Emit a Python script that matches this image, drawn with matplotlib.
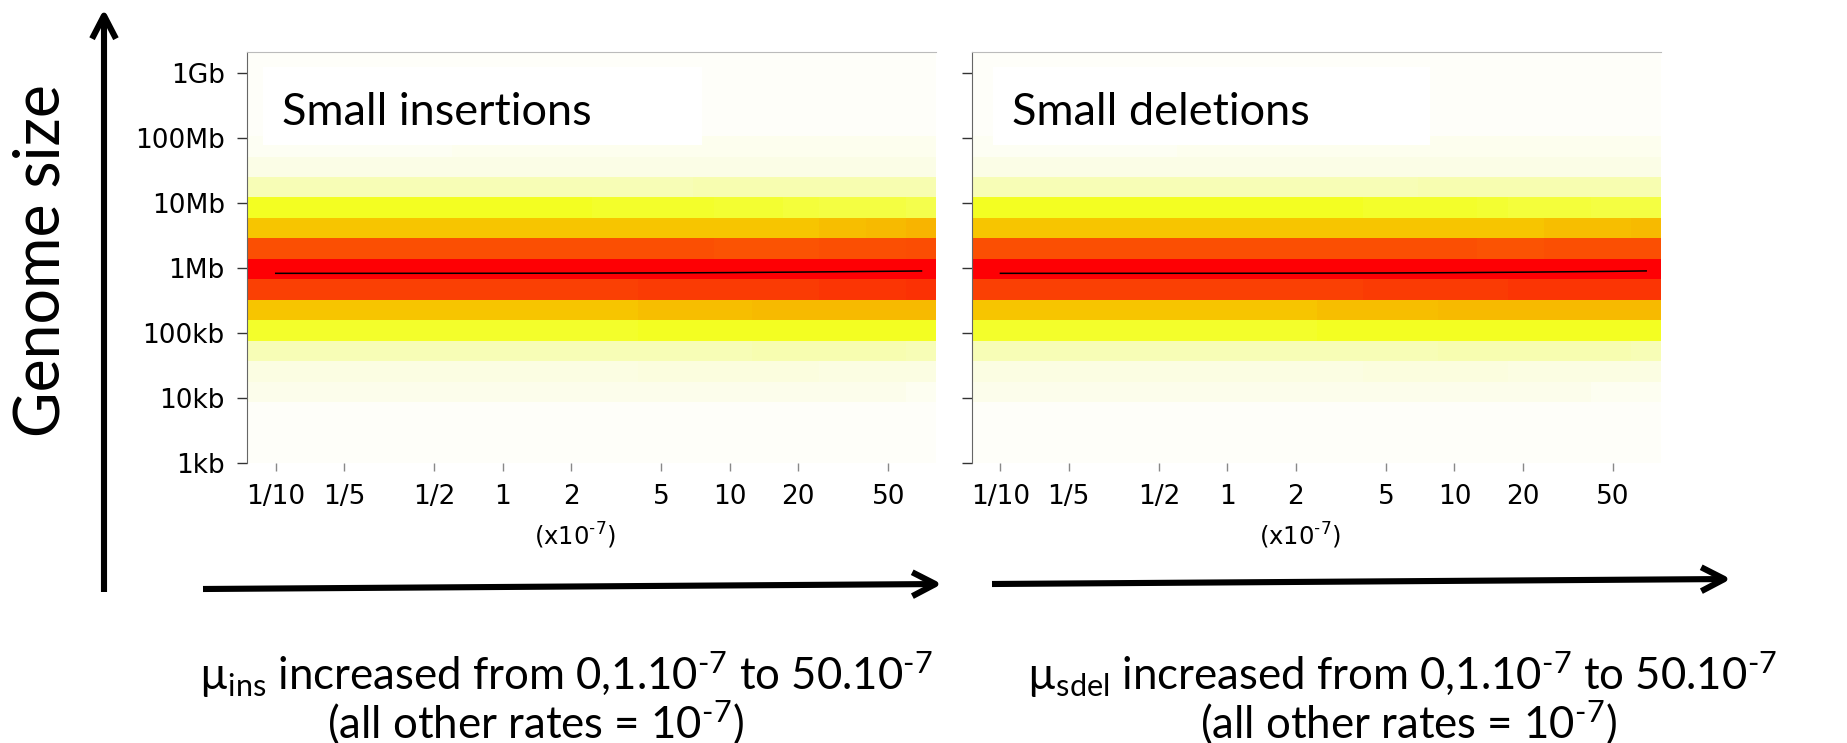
import numpy as np
import matplotlib
matplotlib.use("Agg")
import matplotlib.pyplot as plt
from matplotlib.colors import LinearSegmentedColormap
from matplotlib.patches import FancyArrowPatch, Rectangle

plt.rcParams['mathtext.fontset'] = 'custom'
plt.rcParams['mathtext.rm'] = 'Lato'
plt.rcParams['mathtext.default'] = 'regular'

# rate bins (x10^-7) and genome size bins (log10 bp)
rate_edges = [0.0747, 0.6, 1.24, 2.47, 3.94, 6.9, 8.5, 12.6, 17.2, 24.8, 39.8, 59.8, 81.1]
size_edges_log = [3.938, 4.251, 4.569, 4.877, 5.2, 5.515, 5.831, 6.143, 6.462, 6.774, 7.092, 7.4, 7.715, 8.031]

# relative frequency of final genome sizes, rows bottom -> top
freq_ins = [
    [0.05, 0.05, 0.05, 0.05, 0.05, 0.05, 0.05, 0.05, 0.05, 0.05, 0.05, 0.03],
    [0.08, 0.08, 0.08, 0.08, 0.09, 0.09, 0.09, 0.09, 0.09, 0.08, 0.08, 0.08],
    [0.20, 0.20, 0.20, 0.20, 0.20, 0.20, 0.20, 0.21, 0.21, 0.21, 0.21, 0.20],
    [0.37, 0.37, 0.37, 0.37, 0.38, 0.38, 0.38, 0.38, 0.38, 0.38, 0.38, 0.38],
    [0.58, 0.58, 0.58, 0.58, 0.59, 0.59, 0.59, 0.60, 0.60, 0.60, 0.60, 0.60],
    [0.88, 0.88, 0.88, 0.88, 0.89, 0.89, 0.89, 0.89, 0.89, 0.90, 0.90, 0.91],
    [1.00, 1.00, 1.00, 1.00, 1.00, 1.00, 1.00, 1.00, 1.00, 1.00, 1.00, 1.00],
    [0.80, 0.80, 0.80, 0.80, 0.80, 0.80, 0.79, 0.79, 0.79, 0.80, 0.80, 0.81],
    [0.58, 0.58, 0.58, 0.58, 0.58, 0.58, 0.58, 0.58, 0.58, 0.59, 0.60, 0.61],
    [0.38, 0.38, 0.38, 0.37, 0.37, 0.37, 0.36, 0.36, 0.35, 0.34, 0.34, 0.33],
    [0.20, 0.20, 0.20, 0.20, 0.20, 0.21, 0.21, 0.21, 0.21, 0.21, 0.21, 0.21],
    [0.07, 0.07, 0.07, 0.07, 0.07, 0.07, 0.07, 0.07, 0.07, 0.07, 0.07, 0.07],
    [0.02, 0.04, 0.04, 0.04, 0.04, 0.04, 0.04, 0.04, 0.04, 0.04, 0.04, 0.04],
]
freq_sdel = [
    [0.05, 0.05, 0.05, 0.05, 0.05, 0.05, 0.05, 0.05, 0.05, 0.05, 0.03, 0.03],
    [0.08, 0.08, 0.08, 0.08, 0.09, 0.09, 0.09, 0.09, 0.08, 0.08, 0.08, 0.08],
    [0.20, 0.20, 0.20, 0.20, 0.20, 0.20, 0.21, 0.21, 0.21, 0.21, 0.21, 0.20],
    [0.37, 0.37, 0.37, 0.38, 0.38, 0.38, 0.38, 0.38, 0.38, 0.38, 0.38, 0.38],
    [0.58, 0.58, 0.58, 0.59, 0.59, 0.59, 0.60, 0.60, 0.60, 0.60, 0.60, 0.60],
    [0.88, 0.88, 0.88, 0.88, 0.89, 0.89, 0.89, 0.89, 0.90, 0.90, 0.90, 0.90],
    [1.00, 1.00, 1.00, 1.00, 1.00, 1.00, 1.00, 1.00, 1.00, 1.00, 1.00, 1.00],
    [0.80, 0.80, 0.80, 0.80, 0.80, 0.80, 0.80, 0.79, 0.79, 0.80, 0.80, 0.80],
    [0.58, 0.58, 0.58, 0.58, 0.58, 0.58, 0.58, 0.58, 0.58, 0.59, 0.59, 0.60],
    [0.38, 0.38, 0.38, 0.38, 0.37, 0.37, 0.37, 0.36, 0.35, 0.35, 0.34, 0.34],
    [0.20, 0.20, 0.20, 0.20, 0.20, 0.21, 0.21, 0.21, 0.21, 0.21, 0.21, 0.21],
    [0.07, 0.07, 0.07, 0.07, 0.07, 0.07, 0.07, 0.07, 0.07, 0.07, 0.07, 0.07],
    [0.02, 0.04, 0.04, 0.04, 0.04, 0.04, 0.04, 0.04, 0.04, 0.04, 0.04, 0.04],
]

# mean genome size along the rate axis
mean_rates = [0.1, 0.2, 0.5, 1, 2, 5, 10, 20, 50, 70]
mean_size_ins = [828e3, 828e3, 829e3, 830e3, 832e3, 840e3, 850e3, 865e3, 890e3, 900e3]
mean_size_sdel = [828e3, 828e3, 829e3, 830e3, 832e3, 838e3, 848e3, 862e3, 888e3, 902e3]

ytick_vals = [1e3, 1e4, 1e5, 1e6, 1e7, 1e8, 1e9]
ytick_labels = ['1kb', '10kb', '100kb', '1Mb', '10Mb', '100Mb', '1Gb']
xtick_vals = [0.1, 0.2, 0.5, 1, 2, 5, 10, 20, 50]
xtick_labels = ['1/10', '1/5', '1/2', '1', '2', '5', '10', '20', '50']

heat = LinearSegmentedColormap.from_list('heat', [
    (0.00, '#FEFEF9'), (0.08, '#FBFDE2'), (0.20, '#F7FDB6'), (0.38, '#F3FE22'),
    (0.58, '#F7C500'), (0.80, '#FB4F03'), (0.88, '#FA4104'), (1.00, '#FE0004')])

W, H = 1847, 743
fig = plt.figure(figsize=(W / 100, H / 100), dpi=100)


def fx(px):
    return px / W


def fy(py):
    return 1 - py / H


panels = [
    (247, freq_ins, mean_size_ins, 'Small insertions', 282, (263, 702), True),
    (971.7, freq_sdel, mean_size_sdel, 'Small deletions', 1012, (993, 1430), False),
]

for left, freq, mean_size, title, tx, box, show_labels in panels:
    ax = fig.add_axes([fx(left), fy(463), fx(689), (463 - 52) / H])
    ax.set_facecolor('#FEFEF9')
    ax.set_xscale('log')
    ax.set_yscale('log')
    ax.pcolormesh(rate_edges, 10 ** np.array(size_edges_log), np.array(freq),
                  cmap=heat, vmin=0, vmax=1, shading='flat')
    ax.plot(mean_rates, mean_size, color='black', lw=1.1)
    ax.set_xlim(0.0747, 81.1)
    ax.set_ylim(1e3, 10 ** 9.323)
    ax.minorticks_off()

    ax.set_yticks(ytick_vals)
    ax.set_yticklabels(ytick_labels if show_labels else [])
    ax.set_xticks(xtick_vals)
    ax.set_xticklabels(xtick_labels)
    ax.tick_params(axis='y', length=7, width=1, color='#333333', labelsize=19, pad=9)
    ax.tick_params(axis='x', length=6, width=1, color='#888888', labelsize=19, pad=9)

    for s in ['right', 'bottom']:
        ax.spines[s].set_visible(False)
    ax.spines['top'].set_color('#BBBBBB')
    ax.spines['left'].set_color('#666666')

    # text box behind panel title
    bx0 = (box[0] - left) / 689
    bx1 = (box[1] - left) / 689
    ax.add_patch(Rectangle((bx0, (463 - 145) / 411), bx1 - bx0, (145 - 67) / 411,
                           transform=ax.transAxes, facecolor='white', edgecolor='none', zorder=2))
    ax.text((tx - left) / 689, (463 - 125) / 411, title, transform=ax.transAxes,
            family='Lato', fontsize=32.5, va='baseline', ha='left', zorder=3)
    ax.text((575 - 247) / 689, (463 - 545) / 411, r'(x10$^{\text{-}7}$)', transform=ax.transAxes,
            family='DejaVu Sans', fontsize=17.5, ha='center', va='baseline')

# axis arrows
arrow_style = '->,head_length=1.66,head_width=0.86'
for (x0, y0), (x1, y1) in [((104, 592), (104, 9)), ((203, 589), (942, 584)), ((992, 584), (1731, 579))]:
    fig.add_artist(FancyArrowPatch((fx(x0), fy(y0)), (fx(x1), fy(y1)), transform=fig.transFigure,
                                   arrowstyle=arrow_style, mutation_scale=10, lw=4.4,
                                   color='black', shrinkA=0, shrinkB=0, capstyle='butt'))

fig.text(fx(42), fy(261), 'Genome size', rotation=90, family='Lato', fontsize=45,
         ha='center', va='center')

line1 = r'µ$_{%s}$ increased from 0,1.10$^{\text{-}7}$ to 50.10$^{\text{-}7}$'
line2 = r'(all other rates = 10$^{\text{-}7}$)'
fig.text(fx(566), fy(690), line1 % 'ins', family='Lato', fontsize=31.5, ha='center', va='baseline')
fig.text(fx(535), fy(738), line2, family='Lato', fontsize=31.5, ha='center', va='baseline')
fig.text(fx(1402), fy(690), line1 % 'sdel', family='Lato', fontsize=31.5, ha='center', va='baseline')
fig.text(fx(1408), fy(738), line2, family='Lato', fontsize=31.5, ha='center', va='baseline')

fig.savefig('out.png', dpi=100)
